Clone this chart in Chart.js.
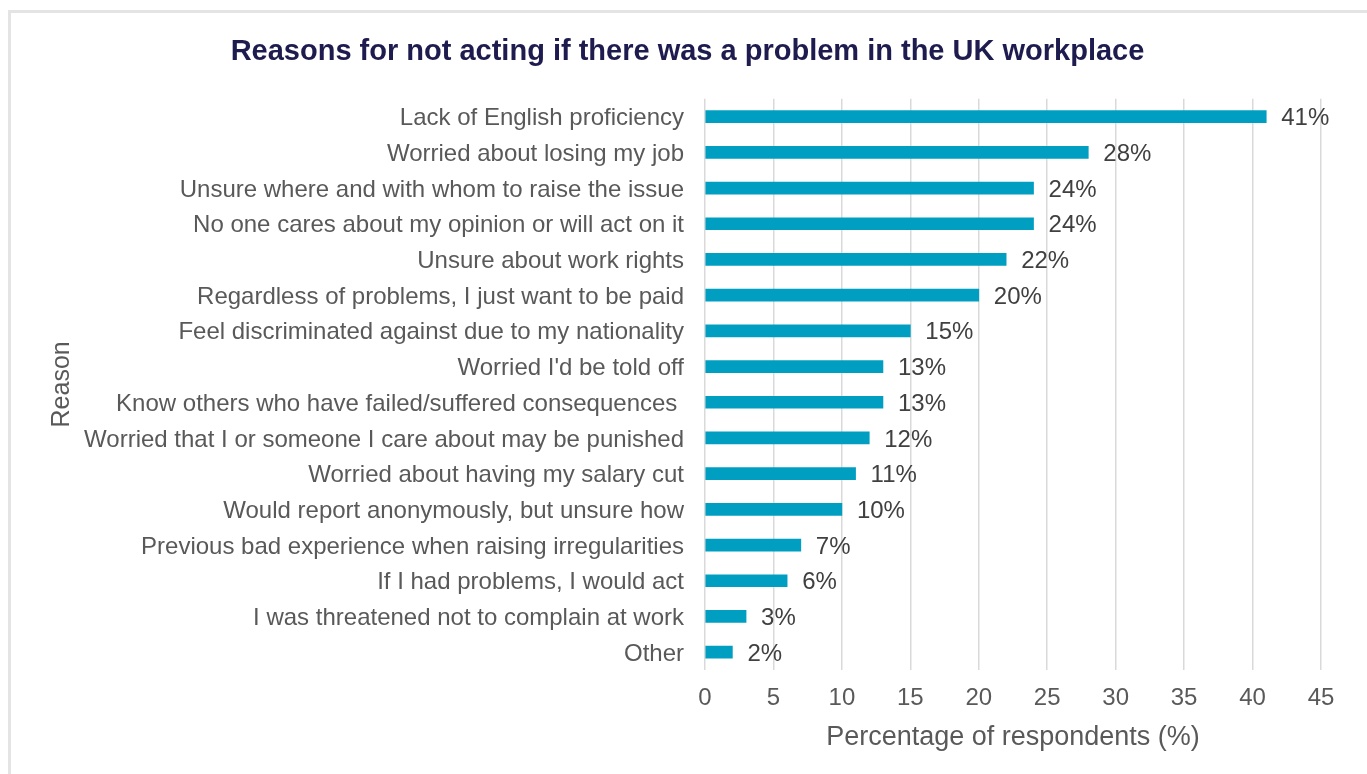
<!DOCTYPE html>
<html>
<head>
<meta charset="utf-8">
<script src="https://cdn.jsdelivr.net/npm/chart.js"></script>
<style>
  html, body { margin: 0; padding: 0; background: #fff; overflow: hidden; }
  .frame {
    position: absolute; left: 8px; top: 10px;
    width: 1400px; height: 820px;
    border: 3px solid #e4e4e4; box-sizing: border-box;
  }
  .wrap { position: absolute; left: 0; top: 0; width: 1367px; height: 774px; }
</style>
</head>
<body>
<div class="frame"></div>
<div class="wrap"><canvas id="reasonChart" width="1367" height="774"></canvas></div>
<script>
const reasons = [
    'Lack of English proficiency',
    'Worried about losing my job',
    'Unsure where and with whom to raise the issue',
    'No one cares about my opinion or will act on it',
    'Unsure about work rights',
    'Regardless of problems, I just want to be paid',
    'Feel discriminated against due to my nationality',
    "Worried I'd be told off",
    'Know others who have failed/suffered consequences ',
    'Worried that I or someone I care about may be punished',
    'Worried about having my salary cut',
    'Would report anonymously, but unsure how',
    'Previous bad experience when raising irregularities',
    'If I had problems, I would act',
    'I was threatened not to complain at work',
    'Other'
];
const percentages = [41, 28, 24, 24, 22, 20, 15, 13, 13, 12, 11, 10, 7, 6, 3, 2];
const xTicks = [0, 5, 10, 15, 20, 25, 30, 35, 40, 45];

const FONT = "Arial, 'Liberation Sans', Helvetica, sans-serif";

// writes "41%" etc. just past the end of each bar
const valueLabels = {
    id: 'valueLabels',
    afterDatasetsDraw(chart) {
        const ctx = chart.ctx;
        const meta = chart.getDatasetMeta(0);
        ctx.save();
        ctx.font = '24px ' + FONT;
        ctx.fillStyle = '#404040';
        ctx.textAlign = 'left';
        ctx.textBaseline = 'middle';
        meta.data.forEach((bar, i) => {
            ctx.fillText(percentages[i] + '%', bar.x + 15, bar.y + 2);
        });
        ctx.restore();
    }
};

new Chart(document.getElementById('reasonChart'), {
    type: 'bar',
    data: {
        labels: reasons,
        datasets: [{
            data: percentages,
            backgroundColor: '#009fc2',
            barThickness: 12
        }]
    },
    options: {
        indexAxis: 'y',
        responsive: false,
        animation: false,
        layout: { padding: { left: 54, right: 46, top: 35, bottom: 10 } },
        plugins: {
            legend: { display: false },
            tooltip: { enabled: false },
            title: {
                display: true,
                text: 'Reasons for not acting if there was a problem in the UK workplace',
                color: '#1e1b4f',
                font: { family: FONT, size: 29, weight: 'bold' },
                padding: { top: 0, bottom: 29 }
            }
        },
        scales: {
            x: {
                min: 0,
                max: 45,
                afterBuildTicks(scale) {
                    scale.ticks = xTicks.map(v => ({ value: v }));
                },
                afterFit(scale) { scale.height = 94; },
                grid: { color: '#d9d9d9', lineWidth: 1.5, drawTicks: false },
                border: { display: false },
                ticks: {
                    color: '#595959',
                    padding: 14,
                    font: { family: FONT, size: 24 }
                },
                title: {
                    display: true,
                    text: 'Percentage of respondents (%)',
                    color: '#595959',
                    font: { family: FONT, size: 27 },
                    padding: { top: 0, bottom: 10 }
                }
            },
            y: {
                afterFit(scale) { scale.width = 651; },
                grid: { display: false, drawTicks: false },
                border: { display: false },
                ticks: {
                    autoSkip: false,
                    color: '#595959',
                    padding: 21,
                    labelOffset: 2,
                    font: { family: FONT, size: 24 }
                },
                title: {
                    display: true,
                    text: 'Reason',
                    color: '#595959',
                    font: { family: FONT, size: 25 },
                    padding: { top: -7, bottom: 0 }
                }
            }
        }
    },
    plugins: [valueLabels]
});
</script>
</body>
</html>
